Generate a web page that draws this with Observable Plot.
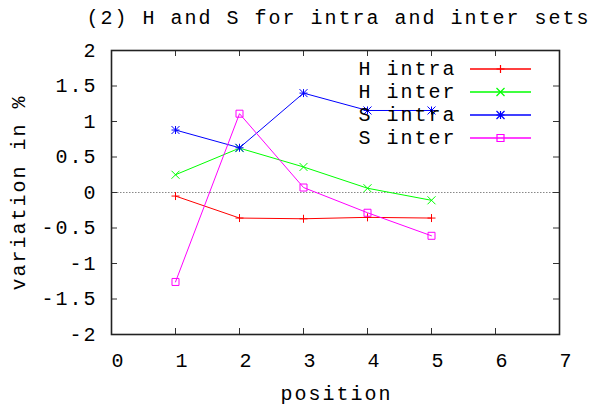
<!DOCTYPE html>
<html>
<head>
<meta charset="utf-8">
<script src="https://cdn.jsdelivr.net/npm/d3@7"></script>
<script src="https://cdn.jsdelivr.net/npm/@observablehq/plot@0.6"></script>
<style>
  html, body { margin: 0; padding: 0; background: #fff; }
</style>
</head>
<body>
<div id="chart"></div>
<script>
const titleText = "(2) H and S for intra and inter sets";
const xLabel = "position";
const yLabel = "variation in %";
const positions = [1, 2, 3, 4, 5];
const seriesNames = ["H intra", "H inter", "S intra", "S inter"];
const seriesColors = ["#ff0000", "#00ff00", "#0000ff", "#ff00ff"];
const hIntra = [-0.05, -0.36, -0.37, -0.35, -0.36];
const hInter = [0.25, 0.625, 0.36, 0.06, -0.11];
const sIntra = [0.88, 0.63, 1.40, 1.155, 1.155];
const sInter = [-1.26, 1.11, 0.07, -0.285, -0.61];
const xTicks = [0, 1, 2, 3, 4, 5, 6, 7];
const yTicks = [-2, -1.5, -1, -0.5, 0, 0.5, 1, 1.5, 2];

const seriesValues = [hIntra, hInter, sIntra, sInter];

// gnuplot-like point symbols
const R = 4;
const plusSym = {draw(c) { c.moveTo(-R, 0); c.lineTo(R, 0); c.moveTo(0, -R); c.lineTo(0, R); }};
const timesSym = {draw(c) { c.moveTo(-R, -R); c.lineTo(R, R); c.moveTo(-R, R); c.lineTo(R, -R); }};
const starSym = {draw(c) { plusSym.draw(c); timesSym.draw(c); }};
const squareSym = {draw(c) { const s = 3.5; c.moveTo(-s, -s); c.lineTo(s, -s); c.lineTo(s, s); c.lineTo(-s, s); c.closePath(); }};
const lineSym = {draw(c) { c.moveTo(-30.5, 0); c.lineTo(30.5, 0); }};
const symbols = [plusSym, timesSym, starSym, squareSym];

const data = [];
seriesNames.forEach((name, si) => {
  positions.forEach((p, i) => data.push({series: name, si, x: p, y: seriesValues[si][i]}));
});

const FONT = "Liberation Mono, DejaVu Sans Mono, monospace";
const FS = 20;
const W = 592, H = 411;
const mL = 111, mR = 33, mT = 50, mB = 77;
const frameW = W - mL - mR, frameH = H - mT - mB;
const tickLen = 6;

const marks = [
  Plot.ruleY([0], {stroke: "#888", strokeWidth: 1, strokeDasharray: "1.5,1.5"}),
  // inward ticks, bottom / top
  Plot.ruleX(xTicks.slice(1, -1), {stroke: "#333", strokeWidth: 1, insetTop: frameH - tickLen}),
  Plot.ruleX(xTicks.slice(1, -1), {stroke: "#333", strokeWidth: 1, insetBottom: frameH - tickLen}),
  // inward ticks, left / right
  Plot.ruleY(yTicks.slice(1, -1), {stroke: "#333", strokeWidth: 1, insetRight: frameW - tickLen}),
  Plot.ruleY(yTicks.slice(1, -1), {stroke: "#333", strokeWidth: 1, insetLeft: frameW - tickLen}),
  Plot.axisX({ticks: xTicks, tickSize: 0, tickPadding: 18, dx: 7, label: null, fontSize: FS, tickFormat: d => String(d)}),
  Plot.axisY({ticks: yTicks, tickSize: 0, tickPadding: 14, label: null, fontSize: FS, tickFormat: d => String(d)}),
];

seriesNames.forEach((name, si) => {
  const rows = data.filter(d => d.si === si);
  marks.push(Plot.line(rows, {x: "x", y: "y", stroke: seriesColors[si], strokeWidth: 1}));
  marks.push(Plot.dot(rows, {x: "x", y: "y", symbol: symbols[si], stroke: seriesColors[si], fill: "none", strokeWidth: 1, r: R}));
});

seriesNames.forEach((name, si) => {
  // legend entries
  const dy = 18.5 + 23 * si;
  marks.push(Plot.text([name], {frameAnchor: "top-right", dx: -103, dy, lineAnchor: "middle", text: d => d, textAnchor: "end", fontSize: FS, fill: "black"}));
  marks.push(Plot.dot([name], {frameAnchor: "top-right", dx: -59, dy, symbol: lineSym, stroke: seriesColors[si], fill: "none", strokeWidth: 1.5}));
  marks.push(Plot.dot([name], {frameAnchor: "top-right", dx: -59, dy, symbol: symbols[si], stroke: seriesColors[si], fill: "none", strokeWidth: 1.2, r: R}));
});

marks.push(
  Plot.frame({stroke: "#222", strokeWidth: 1.6}),
  Plot.text([titleText], {frameAnchor: "top", dx: 3, dy: -33, lineAnchor: "middle", text: d => d, fontSize: FS, fill: "black"}),
  Plot.text([xLabel], {frameAnchor: "bottom", dx: 1, dy: 59, lineAnchor: "middle", text: d => d, fontSize: FS, fill: "black"}),
  Plot.text([yLabel], {frameAnchor: "left", dx: -93, dy: 0, rotate: -90, lineAnchor: "middle", textAnchor: "middle", text: d => d, fontSize: FS, fill: "black"})
);

const chart = Plot.plot({
  width: W,
  height: H,
  marginLeft: mL,
  marginRight: mR,
  marginTop: mT,
  marginBottom: mB,
  style: {fontFamily: FONT, fontSize: FS + "px", letterSpacing: "2px", background: "#fff", color: "black"},
  x: {domain: [0, 7]},
  y: {domain: [-2, 2]},
  marks
});
document.getElementById("chart").appendChild(chart);
</script>
</body>
</html>
